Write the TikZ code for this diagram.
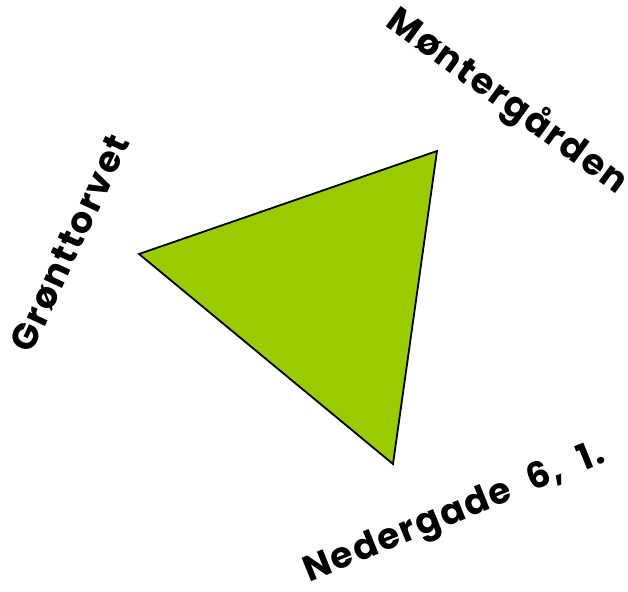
\documentclass[tikz,border=0pt]{standalone}
\usepackage{fontspec}
\setmainfont{Poppins}[LetterSpace=5]
\definecolor{trigreen}{HTML}{99CC00}
\tikzset{
  lbl/.style={font=\bfseries\fontsize{36}{40}\selectfont, inner sep=0pt, anchor=center},
  tri/.style={fill=trigreen, draw=black, line width=1.8pt, line join=miter}
}
\begin{document}
\begin{tikzpicture}[x=1pt,y=-1pt]
\useasboundingbox (0,0) rectangle (628,591);
\coordinate (L) at (139,254);
\coordinate (T) at (437,151);
\coordinate (B) at (393,464);
\draw[tri] (L) -- (T) -- (B) -- cycle;
\node[lbl, rotate=-36] (mg) at (507,102) {Møntergården};
\node[lbl, rotate=65] (gt) at (70,243) {Grønttorvet};
\node[lbl, rotate=22] (ng) at (455,514) {Nedergade\hspace{0.55em}6,\hspace{0.55em}1.};
\end{tikzpicture}
\end{document}
